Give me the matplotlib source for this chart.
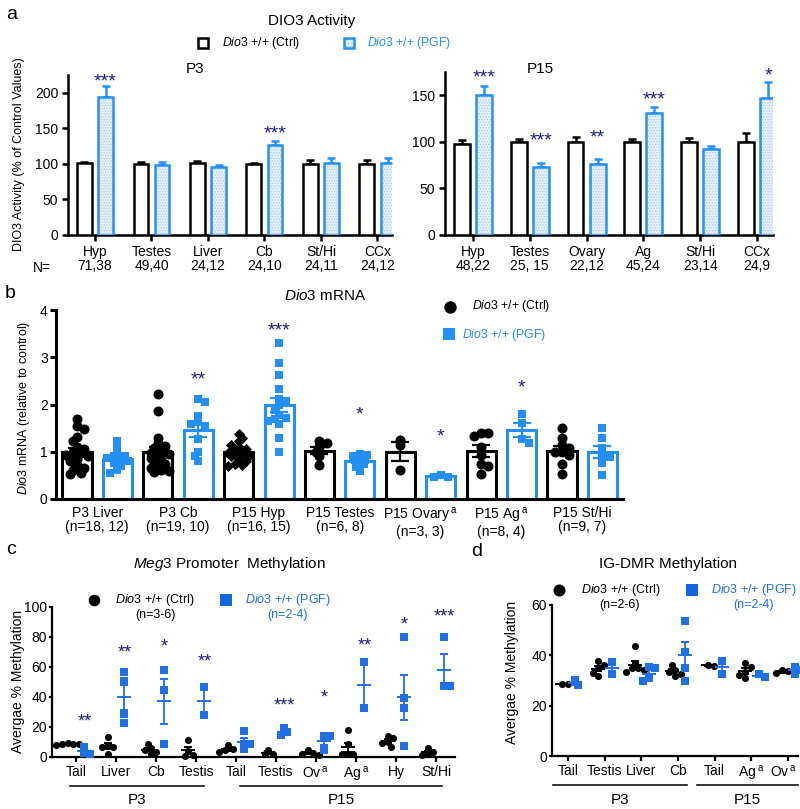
import numpy as np
import matplotlib
matplotlib.use("Agg")
import matplotlib.pyplot as plt
from matplotlib.patches import Rectangle
from matplotlib.transforms import ScaledTranslation

plt.rcParams['font.family'] = ['Liberation Sans', 'DejaVu Sans']
plt.rcParams['mathtext.fontset'] = 'custom'
plt.rcParams['mathtext.rm'] = 'Liberation Sans'
plt.rcParams['mathtext.it'] = 'Liberation Sans:italic'
plt.rcParams['mathtext.bf'] = 'Liberation Sans:bold'
plt.rcParams['hatch.linewidth'] = 0.6

W, H = 800, 809
BLUE = '#2490f5'
BLUE_CD = '#1f6fe5'
NAVY = '#1c1c85'
DIO = r'$\mathit{Dio3}$'
SUP = r'$\,^{\mathrm{a}}$'

# ---- panel a : DIO3 activity ----
a_p3_cats = ['Hyp', 'Testes', 'Liver', 'Cb', 'St/Hi', 'CCx']
a_p3_n = ['71,38', '49,40', '24,12', '24,10', '24,11', '24,12']
a_p3_ctrl = [101, 100, 101, 100, 100, 100]
a_p3_ctrl_sem = [1, 3, 3, 1, 5, 5]
a_p3_pgf = [194, 98, 96, 127, 101, 101]
a_p3_pgf_sem = [16, 4, 3, 5, 7, 7]
a_p3_stars = ['***', '', '', '***', '', '']
a_p3_star_y = [225, 0, 0, 151, 0, 0]

a_p15_cats = ['Hyp', 'Testes', 'Ovary', 'Ag', 'St/Hi', 'CCx']
a_p15_n = ['48,22', '25, 15', '22,12', '45,24', '23,14', '24,9']
a_p15_ctrl = [98, 100, 100, 100, 100, 100]
a_p15_ctrl_sem = [4, 3, 5, 3, 4, 9]
a_p15_pgf = [150, 73, 76, 131, 92, 147]
a_p15_pgf_sem = [10, 4, 6, 6, 4, 17]
a_p15_stars = ['***', '***', '**', '***', '', '*']
a_p15_star_y = [176, 108, 111, 152, 0, 178]

# ---- panel b : Dio3 mRNA ----
b_groups = ['P3 Liver\n(n=18, 12)', 'P3 Cb\n(n=19, 10)', 'P15 Hyp\n(n=16, 15)',
            'P15 Testes\n(n=6, 8)', 'P15 Ovary' + SUP + '\n(n=3, 3)',
            'P15 Ag' + SUP + '\n(n=8, 4)', 'P15 St/Hi\n(n=9, 7)']
b_ctrl = [
    [1.70, 1.55, 1.48, 1.32, 1.23, 1.10, 1.05, 1.00, 0.97, 0.93, 0.90, 0.85, 0.80, 0.72, 0.65, 0.62, 0.55, 0.53],
    [2.22, 1.87, 1.30, 1.18, 1.12, 1.08, 1.02, 0.98, 0.95, 0.90, 0.86, 0.82, 0.78, 0.74, 0.70, 0.66, 0.62, 0.60, 0.58],
    [1.38, 1.30, 1.22, 1.15, 1.10, 1.05, 1.00, 0.98, 0.95, 0.92, 0.90, 0.85, 0.80, 0.75, 0.72, 0.70],
    [1.22, 1.18, 1.10, 1.00, 0.91, 0.72],
    [1.25, 1.14, 0.61],
    [1.39, 1.39, 1.33, 1.10, 0.93, 0.74, 0.70, 0.53],
    [1.51, 1.30, 1.14, 1.07, 1.00, 1.00, 0.93, 0.74, 0.53],
]
b_pgf = [
    [1.22, 1.10, 0.98, 0.92, 0.90, 0.86, 0.83, 0.80, 0.76, 0.70, 0.62, 0.55],
    [2.12, 2.05, 1.75, 1.62, 1.58, 1.55, 1.28, 1.00, 0.90, 0.80],
    [3.30, 2.87, 2.63, 2.32, 2.12, 2.08, 1.98, 1.88, 1.78, 1.72, 1.70, 1.65, 1.58, 1.30, 1.00],
    [0.95, 0.93, 0.91, 0.85, 0.80, 0.74, 0.68, 0.60],
    [0.50, 0.47, 0.46],
    [1.79, 1.60, 1.26, 1.19],
    [1.51, 1.30, 1.07, 0.93, 0.89, 0.77, 0.51],
]
b_ctrl_marker = ['o', 'o', 'D', 'o', 'o', 'o', 'o']
b_stars = ['', '**', '***', '*', '*', '*', '']
b_star_y = [0, 2.66, 3.69, 1.93, 1.45, 2.5, 0]

# ---- panel c : Meg3 promoter methylation ----
c_cats = ['Tail', 'Liver', 'Cb', 'Testis', 'Tail', 'Testis', 'Ov' + SUP, 'Ag' + SUP, 'Hy', 'St/Hi']
c_ctrl = [
    [9.5, 9.0, 8.8, 8.5, 8.0],
    [13.3, 7.8, 7.0, 6.7, 2.2],
    [8.9, 6.0, 4.4, 3.3, 2.2],
    [11.6, 4.0, 1.2, 1.0],
    [7.8, 5.6, 4.4, 3.3],
    [4.9, 2.2, 1.8],
    [4.4, 2.7, 2.2, 1.6],
    [17.8, 8.9, 2.2, 1.8, 1.8],
    [14.2, 12.4, 10.0, 9.1, 6.9],
    [5.8, 3.6, 2.0, 1.3],
]
c_pgf = [
    [6.7, 2.7, 2.2],
    [56.7, 51.0, 28.9, 22.7],
    [58.2, 44.9, 8.4],
    [46.7, 28.2],
    [17.3, 8.9, 8.4, 5.1],
    [19.6, 16.5, 14.4],
    [13.8, 13.8, 4.9],
    [63.3, 32.9],
    [80.2, 39.1, 32.4, 7.3],
    [79.8, 47.3, 47.3],
]
c_stars = ['**', '**', '*', '**', '', '***', '*', '**', '*', '***']
c_star_y = [27, 73, 77, 67, 0, 38, 43, 78, 92, 97]
c_periods = ['P3', 'P15']
c_period_span = [(-0.15, 3.2), (4.1, 9.15)]

# ---- panel d : IG-DMR methylation ----
d_cats = ['Tail', 'Testis', 'Liver', 'Cb', 'Tail', 'Ag' + SUP, 'Ov' + SUP]
d_ctrl = [
    [28.5, 28.5],
    [37.9, 36.2, 34.8, 33.1, 31.8],
    [43.7, 36.8, 35.0, 34.8, 34.2, 33.5],
    [36.2, 34.2, 33.5, 32.6, 31.8],
    [35.8, 36.2],
    [36.8, 35.2, 33.5, 32.2, 31.1],
    [34.2, 33.9, 33.1, 32.6],
]
d_pgf = [
    [28.2, 30.2],
    [37.5, 32.6],
    [35.2, 34.8, 30.9, 29.8],
    [53.8, 41.5, 34.8, 29.9],
    [37.9, 32.6],
    [31.3, 32.6],
    [35.2, 34.2, 32.6],
]
d_periods = ['P3', 'P15']
d_period_span = [(-0.41, 3.24), (3.51, 6.27)]


def px_axes(fig, x0, y0, x1, y1):
    return fig.add_axes([x0 / W, 1 - y1 / H, (x1 - x0) / W, (y1 - y0) / H])


def clean(ax, lw):
    for s in ['top', 'right']:
        ax.spines[s].set_visible(False)
    for s in ['left', 'bottom']:
        ax.spines[s].set_linewidth(lw)
    ax.tick_params(width=lw, colors='black')
    ax.patch.set_alpha(0)


def swarm(vals, xscale, yscale, diam, spread=0.72, step=0.45):
    # simple beeswarm, pixel based, returns x offsets in data units
    vals = np.asarray(vals, float)
    order = np.argsort(vals)[::-1]
    placed, offs = [], np.zeros(len(vals))
    flip = 1
    for idx in order:
        y = vals[idx] * yscale
        k, found = 0, None
        while found is None:
            cands = [0.0] if k == 0 else [flip * k * step * diam, -flip * k * step * diam]
            for x in cands:
                if all(np.hypot(x - px, y - py) >= diam * spread for px, py in placed):
                    found = x
                    break
            k += 1
        if found != 0:
            flip = -flip
        placed.append((found, y))
        offs[idx] = found / xscale
    return offs


def star(ax, x, y, s, size=14):
    ax.annotate(s, (x, y), xytext=(0, -0.575 * size), textcoords='offset points',
                ha='center', va='baseline', color=NAVY, fontsize=size,
                annotation_clip=False)


fig = plt.figure(figsize=(W / 100, H / 100), dpi=100)
ov = fig.add_axes([0, 0, 1, 1])
ov.set_xlim(0, W)
ov.set_ylim(H, 0)
ov.axis('off')


# ---------------- panel a ----------------
def draw_a(ax, cats, nlab, ctrl, csem, pgf, psem, stars, star_y, off, bw, ymax, yticks):
    x = np.arange(len(cats))
    z = np.zeros(len(cats))
    ax.errorbar(x - off, ctrl, yerr=[z, csem], fmt='none', ecolor='black',
                elinewidth=1.8, capsize=3, capthick=1.8, zorder=2)
    ax.errorbar(x + off, pgf, yerr=[z, psem], fmt='none', ecolor=BLUE,
                elinewidth=1.8, capsize=3, capthick=1.8, zorder=2)
    ax.bar(x - off, ctrl, width=bw, facecolor='white', edgecolor='black', lw=1.8, zorder=3)
    ax.bar(x + off, pgf, width=bw, facecolor='#e6effa', edgecolor='#a9c9ef',
           hatch='......', lw=0, zorder=3)
    ax.bar(x + off, pgf, width=bw, fill=False, edgecolor=BLUE, lw=1.8, zorder=4)
    for xi, s, sy in zip(x, stars, star_y):
        if s:
            star(ax, xi + off, sy, s)
    ax.set_ylim(0, ymax)
    ax.set_yticks(yticks)
    ax.set_xticks(x)
    ax.set_xticklabels([c + '\n' + n for c, n in zip(cats, nlab)])
    for t in ax.get_xticklabels():
        t.set_linespacing(1.05)
    clean(ax, 1.8)
    ax.tick_params(axis='both', length=4, labelsize=10, pad=3)


axa1 = px_axes(fig, 68, 75, 392, 235)
draw_a(axa1, a_p3_cats, a_p3_n, a_p3_ctrl, a_p3_ctrl_sem, a_p3_pgf, a_p3_pgf_sem,
       a_p3_stars, a_p3_star_y, 0.186, 0.265, 225, [0, 50, 100, 150, 200])
axa1.set_xlim(-0.478, 5.257)

axa2 = px_axes(fig, 445, 72, 773, 235)
draw_a(axa2, a_p15_cats, a_p15_n, a_p15_ctrl, a_p15_ctrl_sem, a_p15_pgf, a_p15_pgf_sem,
       a_p15_stars, a_p15_star_y, 0.194, 0.28, 175, [0, 50, 100, 150])
axa2.set_xlim(-0.49, 5.28)

ov.text(12, 14, 'a', fontsize=14, ha='center', va='center')
ov.text(312, 21, 'DIO3 Activity', fontsize=11, ha='center', va='center')
ov.add_patch(Rectangle((198, 38), 10, 10, fill=False, ec='black', lw=1.8))
ov.text(222, 43, DIO + ' +/+ (Ctrl)', fontsize=8.8, ha='left', va='center')
ov.add_patch(Rectangle((344, 38), 10, 10, fc='#e6effa', ec='#a9c9ef', hatch='.....', lw=0))
ov.add_patch(Rectangle((344, 38), 10, 10, fill=False, ec=BLUE, lw=1.8))
ov.text(367, 43, DIO + ' +/+ (PGF)', fontsize=8.8, ha='left', va='center', color=BLUE)
ov.text(195, 69, 'P3', fontsize=11, ha='center', va='center')
ov.text(540, 69, 'P15', fontsize=11, ha='center', va='center')
ov.text(42, 268, 'N=', fontsize=10, ha='center', va='center')
ov.text(19, 154, 'DIO3 Activity (% of Control Values)', fontsize=9, rotation=90,
        ha='center', va='center')

# ---------------- panel b ----------------
axb = px_axes(fig, 56, 310, 623, 499)
bx_scale, by_scale = 40.4, 47.25
for g in range(len(b_groups)):
    for k, (pts, col, mk, s) in enumerate([(b_ctrl[g], 'black', b_ctrl_marker[g],
                                            32 if b_ctrl_marker[g] == 'D' else 52),
                                           (b_pgf[g], BLUE, 's', 40)]):
        xc = 2 * g + k
        pts = np.asarray(pts)
        mean = pts.mean()
        sem = pts.std(ddof=1) / np.sqrt(len(pts))
        axb.bar(xc, mean, width=0.72, facecolor='white', edgecolor=col, lw=2.2, zorder=2)
        offs = swarm(pts, bx_scale, by_scale, 9, spread=0.55, step=0.4)
        axb.scatter(xc + offs, pts, s=s, marker=mk, color=col, lw=0, zorder=3, clip_on=False)
        axb.errorbar(xc, mean, yerr=sem, fmt='none', ecolor=col, elinewidth=1.6,
                     capsize=6.5, capthick=1.6, zorder=4)
    if b_stars[g]:
        star(axb, 2 * g + 1, b_star_y[g], b_stars[g])
axb.set_xlim(-0.52, 13.51)
axb.set_ylim(0, 4)
axb.set_yticks([0, 1, 2, 3, 4])
axb.set_xticks(np.arange(len(b_groups)) * 2 + 0.5)
axb.set_xticklabels(b_groups)
for t in axb.get_xticklabels():
    t.set_linespacing(1.05)
clean(axb, 2.2)
axb.tick_params(axis='x', length=0, labelsize=10, pad=5)
axb.tick_params(axis='y', length=4, labelsize=10, pad=2)

ov.text(10, 293, 'b', fontsize=14, ha='center', va='center')
ov.text(325, 296, DIO + ' mRNA', fontsize=11, ha='center', va='center')
ov.scatter([450], [307], s=80, marker='o', color='black', lw=0)
ov.text(472, 306, DIO + ' +/+ (Ctrl)', fontsize=8.8, ha='left', va='center')
ov.scatter([449], [334], s=64, marker='s', color=BLUE, lw=0)
ov.text(462, 335, DIO + ' +/+ (PGF)', fontsize=8.8, ha='left', va='center', color=BLUE)
ov.text(24, 408, DIO + ' mRNA (relative to control)', fontsize=9, rotation=90,
        ha='center', va='center')


# ---------------- panels c, d ----------------
def draw_meth(ax, lims, cats, ctrl, pgf, xs, ys, coff, poff, periods, spans,
              ymax, yticks, line_y, lab_y):
    for i in range(len(cats)):
        for pts, col, mk, off in [(ctrl[i], 'black', 'o', coff), (pgf[i], BLUE_CD, 's', poff)]:
            pts = np.asarray(pts)
            mean = pts.mean()
            sem = pts.std(ddof=1) / np.sqrt(len(pts))
            offs = swarm(pts, xs, ys, 6.5, spread=0.8)
            ax.scatter(i + off + offs, pts, s=26, marker=mk, color=col, lw=0, zorder=3,
                       clip_on=False)
            ax.errorbar(i + off, mean, yerr=sem, fmt='_', color=col, ms=10, mew=1.4,
                        elinewidth=1.3, capsize=3, capthick=1.3, zorder=4)
    ax.set_xlim(*lims)
    ax.set_ylim(0, ymax)
    ax.set_yticks(yticks)
    ax.set_xticks(np.arange(len(cats)))
    ax.set_xticklabels(cats)
    clean(ax, 1.6)
    ax.tick_params(axis='x', length=3.5, labelsize=10, pad=2)
    ax.tick_params(axis='y', length=2.5, labelsize=10, pad=1)
    tr = ax.get_xaxis_transform()
    for name, (x0, x1) in zip(periods, spans):
        ax.plot([x0, x1], [line_y, line_y], color='black', lw=1.1, transform=tr, clip_on=False)
        ax.text((x0 + x1) / 2, lab_y, name, fontsize=11, ha='center', va='center',
                transform=tr)


axc = px_axes(fig, 52, 607, 455, 757)
draw_meth(axc, (-0.6, 9.475), c_cats, c_ctrl, c_pgf, 40.0, 1.5, -0.21, 0.21,
          c_periods, c_period_span, 100, [0, 20, 40, 60, 80, 100], -0.193, -0.29)
for i, (s, sy) in enumerate(zip(c_stars, c_star_y)):
    if s:
        star(axc, i + 0.21, sy, s, size=13)

axd = px_axes(fig, 552, 605, 798, 756)
draw_meth(axd, (-0.436, 6.27), d_cats, d_ctrl, d_pgf, 36.7, 2.52, -0.17, 0.2,
          d_periods, d_period_span, 60, [0, 20, 40, 60], -0.192, -0.29)
# last label sits against the right edge, nudge it a little left
last = axd.get_xticklabels()[-1]
last.set_transform(last.get_transform() + ScaledTranslation(-0.04, 0, fig.dpi_scale_trans))

ov.text(11, 550, 'c', fontsize=14, ha='center', va='center')
ov.text(229, 564, r'$\mathit{Meg3}$ Promoter  Methylation', fontsize=11, ha='center', va='center')
ov.scatter([94], [600], s=70, marker='o', color='black', lw=0)
ov.text(115, 600, DIO + ' +/+ (Ctrl)', fontsize=9, ha='left', va='center')
ov.text(155, 615, '(n=3-6)', fontsize=9, ha='center', va='center')
ov.scatter([226], [600], s=64, marker='s', color='#1565e0', lw=0)
ov.text(245, 600, DIO + ' +/+ (PGF)', fontsize=9, ha='left', va='center', color=BLUE_CD)
ov.text(287, 615, '(n=2-4)', fontsize=9, ha='center', va='center', color=BLUE_CD)
ov.text(18, 681, 'Avergae % Methylation', fontsize=10, rotation=90, ha='center', va='center')

ov.text(477, 552, 'd', fontsize=14, ha='center', va='center')
ov.text(668, 564, 'IG-DMR Methylation', fontsize=11, ha='center', va='center')
ov.scatter([559], [590], s=75, marker='o', color='black', lw=0)
ov.text(581, 590, DIO + ' +/+ (Ctrl)', fontsize=9, ha='left', va='center')
ov.text(620, 605, '(n=2-6)', fontsize=9, ha='center', va='center')
ov.scatter([692], [590], s=70, marker='s', color='#1565e0', lw=0)
ov.text(711, 590, DIO + ' +/+ (PGF)', fontsize=9, ha='left', va='center', color=BLUE_CD)
ov.text(753, 605, '(n=2-4)', fontsize=9, ha='center', va='center', color=BLUE_CD)
ov.text(512, 672, 'Avergae % Methylation', fontsize=10, rotation=90, ha='center', va='center')

fig.savefig('out.png', dpi=100, facecolor='white')
